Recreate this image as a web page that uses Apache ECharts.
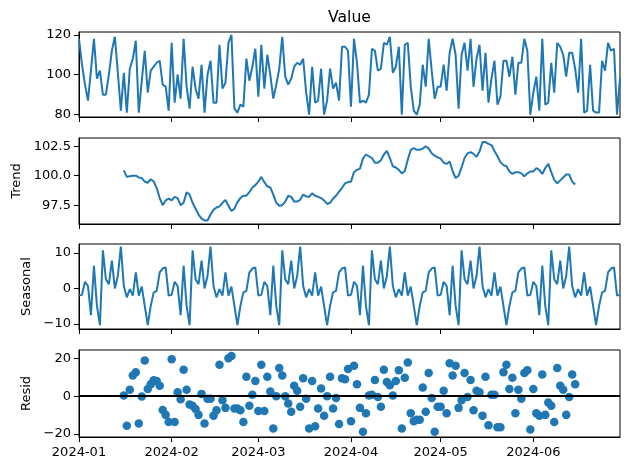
<!DOCTYPE html>
<html><head><meta charset="utf-8">
<script src="https://cdn.jsdelivr.net/npm/echarts@6/dist/echarts.min.js"></script>
<style>html,body{margin:0;padding:0;background:#fff}#c{width:630px;height:470px}</style>
</head><body><div id="c"></div>
<script>
const nDays = 182;
const observed = [
118,105,95,87,102,118,98,102,90,90,
100,112,119,101,82,101,81,103,108,117,
81,97,112,91,102,104,106,107,95,94,
82,116,86,100,88,118,94,83,104,93,
88,105,81,100,107,86,86,115,93,96,
116,120,83,81,85,84,108,97,104,113,
89,115,93,110,100,88,95,103,119,99,
95,98,104,106,105,108,91,80,104,86,
87,103,80,87,103,93,96,87,114,114,
112,84,118,106,86,87,86,90,113,112,
102,103,116,115,119,101,104,114,80,115,
116,94,82,80,85,105,94,118,102,88,
94,94,105,92,111,118,110,83,110,116,
102,118,94,108,115,92,111,86,98,107,
85,89,107,107,99,109,90,106,106,118,
112,80,91,99,82,118,85,86,106,91,
116,114,110,99,111,111,103,91,118,81,
82,105,82,81,81,107,102,116,112,113,
80,98];
const trendStart = 15;
const trendValues = [
100.45,99.9,99.95,100.0,100.0,99.85,99.8,99.5,99.4,99.7,
99.5,98.95,98.1,97.5,97.9,98.05,97.9,98.2,98.1,97.5,
97.7,98.6,98.4,97.7,97.2,96.7,96.35,96.2,96.2,96.7,
97.1,97.3,97.4,97.7,97.95,97.45,97.0,97.2,97.75,98.1,
98.3,98.3,98.6,99.0,99.2,99.5,99.9,99.45,99.1,99.0,
98.4,97.7,97.45,97.5,97.8,98.3,98.2,97.8,97.8,97.95,
98.4,98.25,98.2,98.5,98.3,98.2,98.1,97.9,97.6,97.7,
98.05,98.3,98.65,98.95,99.35,99.45,99.5,100.3,100.5,100.6,
101.45,101.8,101.65,101.5,101.1,101.1,101.3,101.8,102.1,101.5,
100.8,100.7,100.5,100.2,100.4,101.35,102.2,102.35,102.2,102.2,
102.3,102.5,102.3,101.9,101.7,101.55,101.45,101.1,101.0,101.2,
100.4,99.8,100.0,100.7,101.5,101.9,102.0,101.85,101.6,102.05,
102.85,102.85,102.7,102.6,102.1,101.65,101.15,100.9,100.8,100.35,
100.15,100.3,100.3,100.2,99.95,100.2,100.35,100.35,100.65,100.5,
100.15,100.65,101.0,100.3,99.65,99.35,99.6,99.85,100.1,100.1,
99.5,99.25];
const seasonal = [
-2.0,-1.8,1.9,0.7,-7.5,6.4,-4.9,-10.3,10.7,2.6,1.2,7.8,0.0,3.5,11.8,0.7,-2.5,-0.2,-2.0,4.5,-2.0,0.5,-4.9,-10.3,-4.9,-1.1,-0.7,4.5,5.6,5.9,
-2.0,-1.8,1.9,0.7,-7.5,6.4,-4.9,-10.3,10.7,2.6,1.2,7.8,0.0,3.5,11.8,0.7,-2.5,-0.2,-2.0,4.5,-2.0,0.5,-4.9,-10.3,-4.9,-1.1,-0.7,4.5,5.6,5.9,
-2.0,-1.8,1.9,0.7,-7.5,6.4,-4.9,-10.3,10.7,2.6,1.2,7.8,0.0,3.5,11.8,0.7,-2.5,-0.2,-2.0,4.5,-2.0,0.5,-4.9,-10.3,-4.9,-1.1,-0.7,4.5,5.6,5.9,
-2.0,-1.8,1.9,0.7,-7.5,6.4,-4.9,-10.3,10.7,2.6,1.2,7.8,0.0,3.5,11.8,0.7,-2.5,-0.2,-2.0,4.5,-2.0,0.5,-4.9,-10.3,-4.9,-1.1,-0.7,4.5,5.6,5.9,
-2.0,-1.8,1.9,0.7,-7.5,6.4,-4.9,-10.3,10.7,2.6,1.2,7.8,0.0,3.5,11.8,0.7,-2.5,-0.2,-2.0,4.5,-2.0,0.5,-4.9,-10.3,-4.9,-1.1,-0.7,4.5,5.6,5.9,
-2.0,-1.8,1.9,0.7,-7.5,6.4,-4.9,-10.3,10.7,2.6,1.2,7.8,0.0,3.5,11.8,0.7,-2.5,-0.2,-2.0,4.5,-2.0,0.5,-4.9,-10.3,-4.9,-1.1,-0.7,4.5,5.6,5.9,
-2.0,-1.8];
const residStart = 15;
const residValues = [
0.3,-15.6,3.4,10.9,12.6,-14.5,-0.2,18.8,3.8,6.3,
8.4,8.0,5.5,-7.3,-9.9,-13.7,19.5,-13.7,2.0,-1.7,
14.0,3.4,-4.4,-5.1,-6.8,-9.9,1.2,-14.5,-1.4,-1.4,
-10.3,-7.4,16.6,-2.2,-6.2,20.0,21.2,-6.5,-6.5,-7.4,
-13.7,10.3,-5.1,0.7,8.0,-7.9,16.6,-7.9,10.3,2.4,
-17.1,0.0,14.9,10.9,0.0,-3.9,-8.2,5.5,2.9,-5.6,
9.4,-1.4,-17.1,8.0,-15.9,-6.5,4.1,-10.4,0.0,10.3,
-6.5,-1.0,-14.7,9.4,8.9,14.4,-13.3,16.1,6.3,-6.2,
-18.8,-9.1,0.3,0.7,8.5,-0.5,-5.6,14.0,7.5,5.8,
0.3,8.0,13.7,-17.1,9.7,17.8,-9.1,-13.3,-12.5,-12.5,
4.6,-8.2,12.3,-1.0,-18.8,-5.6,-5.6,2.9,-9.1,17.4,
10.9,16.1,-6.2,-2.2,12.3,-0.5,8.5,-7.4,2.9,2.0,
-10.3,10.3,-15.4,0.7,0.7,-16.4,-16.4,12.6,16.6,3.8,
9.7,-9.1,3.4,-1.4,12.3,13.7,-17.6,3.8,-9.1,-10.4,
11.5,-9.9,-3.4,-5.1,-13.7,14.9,5.5,3.4,-9.9,-0.5,
11.5,6.3];
const ticksValue = [80, 100, 120];
const ticksTrend = [97.5, 100, 102.5];
const ticksSeasonal = [-10, 0, 10];
const ticksResid = [-20, 0, 20];
const panelNames = ['', 'Trend', 'Seasonal', 'Resid'];

const dates = [];
for (let i = 0; i < nDays; i++) {
  const d = new Date(Date.UTC(2024, 0, 1 + i));
  dates.push(d.toISOString().slice(0, 10));
}
function pad(vals, start) {
  const a = new Array(nDays).fill(null);
  vals.forEach((v, k) => { a[start + k] = v; });
  return a;
}
const trend = pad(trendValues, trendStart);
const resid = pad(residValues, residStart);

const FONT = 'DejaVu Sans';
const COLOR = '#1f77b4';
const grids = [
  {top: 32, height: 85}, {top: 138, height: 86}, {top: 244, height: 85}, {top: 350, height: 87}
].map(g => Object.assign({left: 79, right: 10, show: true, borderColor: '#000', borderWidth: 1, containLabel: false}, g));

const isMonthStart = (idx, val) => String(val).slice(8, 10) === '01';
const xAxes = grids.map((g, k) => ({
  type: 'category', gridIndex: k, data: dates, boundaryGap: false,
  axisLine: {show: true, onZero: false, lineStyle: {color: '#000', width: 1}},
  axisTick: {show: true, interval: isMonthStart, length: 5, lineStyle: {color: '#000', width: 1}},
  axisLabel: {show: k === 3, interval: isMonthStart, formatter: v => v.slice(0, 7), margin: 9,
    color: '#000', fontSize: 13, fontFamily: FONT},
  splitLine: {show: false}
}));
const fmtNum = (dec) => (v) => {
  const s = Math.abs(v).toFixed(dec);
  return v < 0 ? '\u2212' + s : s;
};
const yCfg = [
  {min: 78.8, max: 121.4, ticks: ticksValue, dec: 0, gap: 0},
  {min: 95.9, max: 103.2, ticks: ticksTrend, dec: 1, gap: 52},
  {min: -11.4, max: 12.5, ticks: ticksSeasonal, dec: 0, gap: 45},
  {min: -21.6, max: 24.4, ticks: ticksResid, dec: 0, gap: 45}
];
const yAxes = yCfg.map((c, k) => ({
  type: 'value', gridIndex: k, min: c.min, max: c.max,
  name: panelNames[k], nameLocation: 'middle', nameRotate: 90, nameGap: c.gap,
  nameTextStyle: {color: '#000', fontSize: 13, fontFamily: FONT},
  axisLine: {show: true, lineStyle: {color: '#000', width: 1}},
  axisTick: {show: true, length: 5, customValues: c.ticks, lineStyle: {color: '#000', width: 1}},
  axisLabel: {show: true, customValues: c.ticks, formatter: fmtNum(c.dec), margin: 8,
    color: '#000', fontSize: 13, fontFamily: FONT},
  splitLine: {show: false}
}));

const lineStyle = {color: COLOR, width: 2};
const option = {
  animation: false,
  backgroundColor: '#fff',
  grid: grids,
  xAxis: xAxes,
  yAxis: yAxes,
  graphic: [{
    type: 'text', x: 349.5, y: 18,
    style: {text: 'Value', fill: '#000', font: '15.6px "DejaVu Sans"', textAlign: 'center', textVerticalAlign: 'middle'}
  }],
  series: [
    {type: 'line', xAxisIndex: 0, yAxisIndex: 0, data: observed, showSymbol: false, lineStyle, itemStyle: {color: COLOR}},
    {type: 'line', xAxisIndex: 1, yAxisIndex: 1, data: trend, showSymbol: false, connectNulls: false, lineStyle, itemStyle: {color: COLOR}},
    {type: 'line', xAxisIndex: 2, yAxisIndex: 2, data: seasonal, showSymbol: false, lineStyle, itemStyle: {color: COLOR}},
    {type: 'line', xAxisIndex: 3, yAxisIndex: 3, data: [], z: 1, silent: true,
      markLine: {silent: true, symbol: 'none', animation: false, label: {show: false},
        lineStyle: {color: '#000', width: 2, type: 'solid'}, data: [{yAxis: 0}]}},
    {type: 'scatter', xAxisIndex: 3, yAxisIndex: 3, data: resid, z: 3, symbolSize: 8.5,
      itemStyle: {color: COLOR, opacity: 1}}
  ]
};
const chart = echarts.init(document.getElementById('c'), null, {renderer: 'canvas'});
chart.setOption(option);
</script>
</body></html>
